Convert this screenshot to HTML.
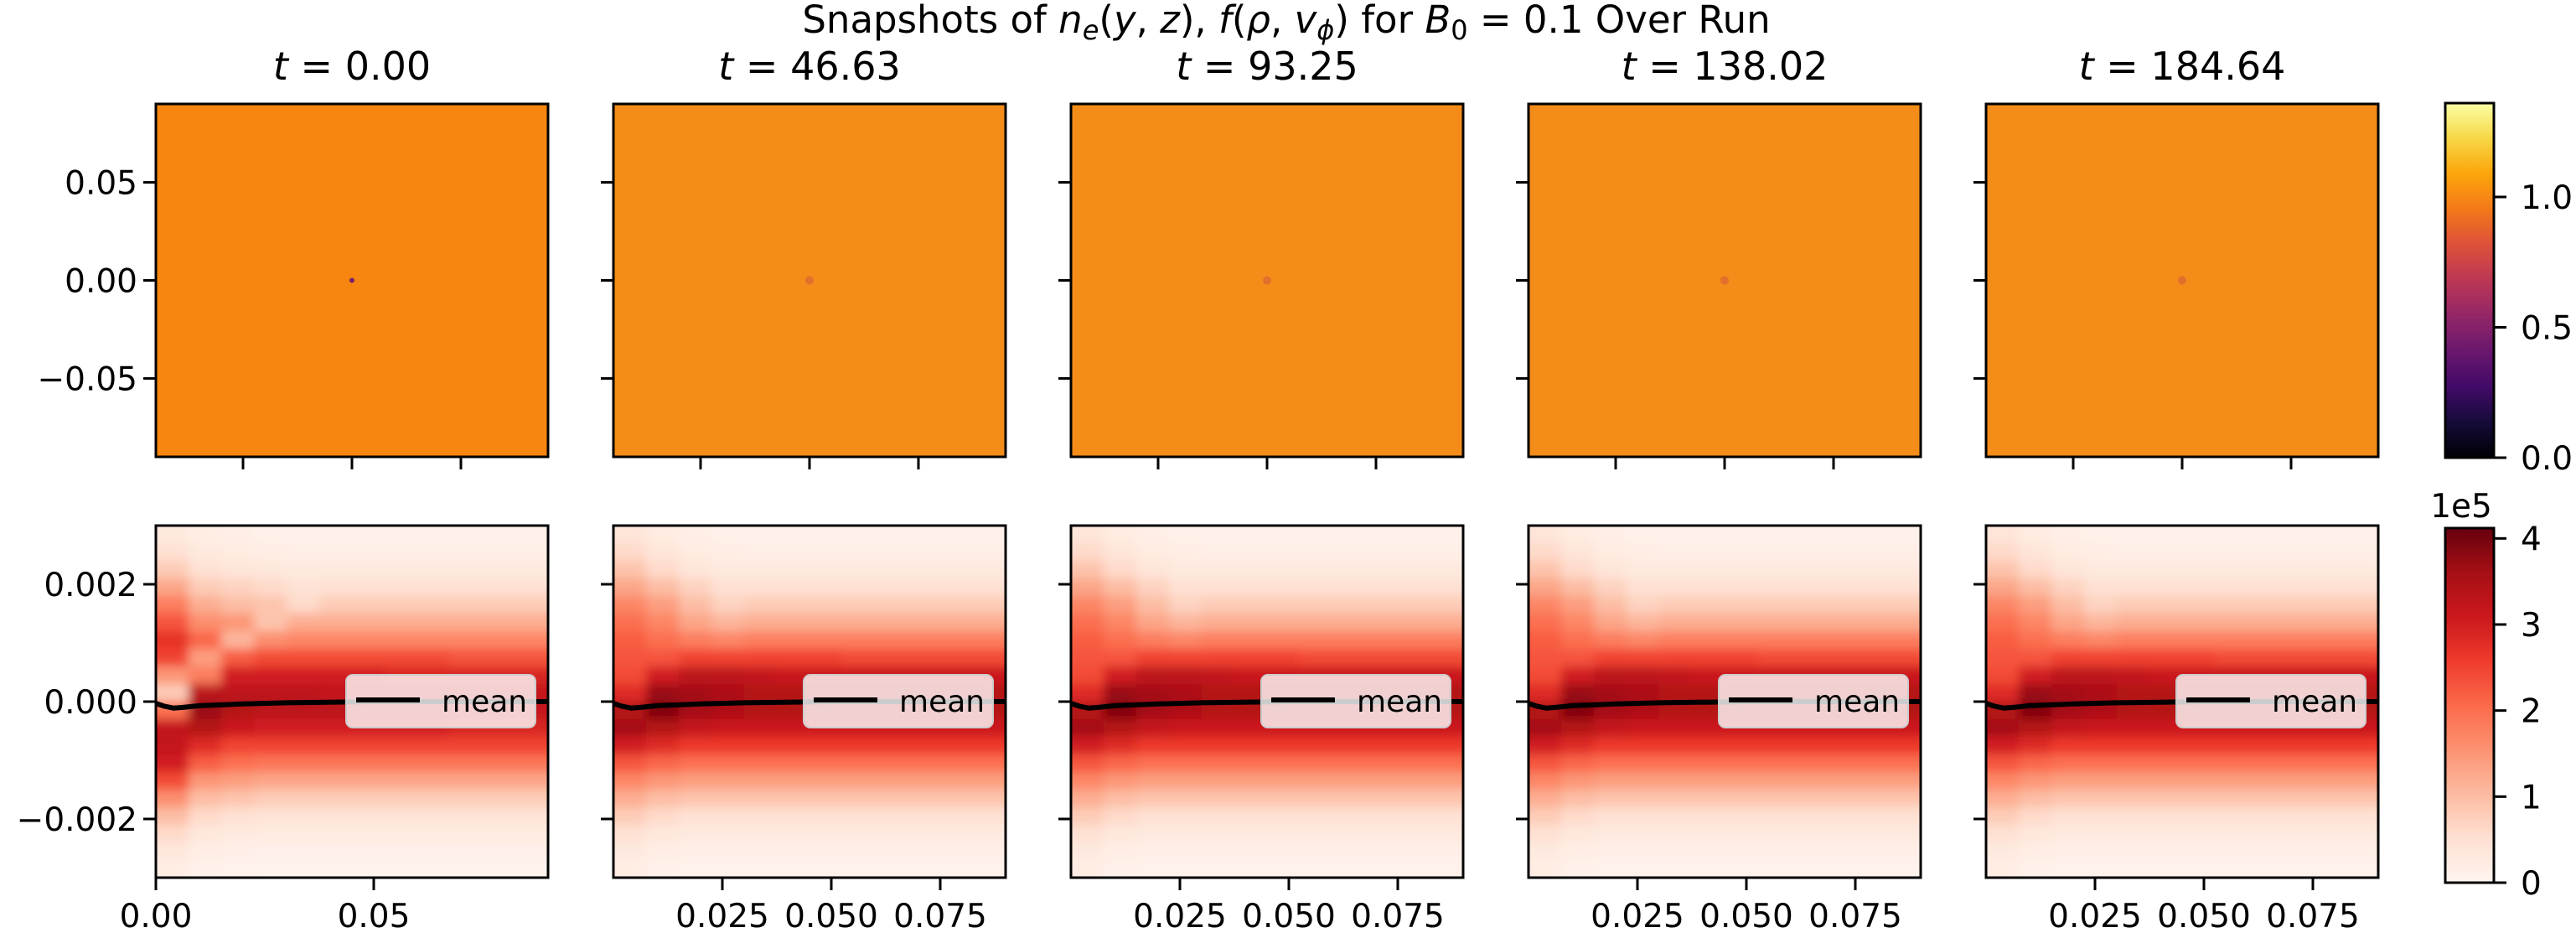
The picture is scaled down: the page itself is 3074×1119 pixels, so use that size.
<!DOCTYPE html>
<html><head><meta charset="utf-8">
<style>
html,body{margin:0;padding:0;background:#fff;}
svg{display:block;}
text{font-family:"DejaVu Sans","Liberation Sans",sans-serif;fill:#000;}
</style></head>
<body>
<svg id="fig" width="3074" height="1119" viewBox="0 0 3074 1119" xmlns="http://www.w3.org/2000/svg">
<defs>
<linearGradient id="infernoGrad" x1="0" y1="1" x2="0" y2="0">
<stop offset="0" stop-color="#000004"/><stop offset="0.1" stop-color="#160b39"/><stop offset="0.2" stop-color="#420a68"/><stop offset="0.3" stop-color="#6a176e"/><stop offset="0.4" stop-color="#932667"/><stop offset="0.5" stop-color="#bc3754"/><stop offset="0.6" stop-color="#dd513a"/><stop offset="0.7" stop-color="#f37819"/><stop offset="0.8" stop-color="#fca50a"/><stop offset="0.9" stop-color="#f6d746"/><stop offset="1" stop-color="#fcffa4"/>
</linearGradient>
<linearGradient id="redsGrad" x1="0" y1="1" x2="0" y2="0">
<stop offset="0" stop-color="#fff5f0"/><stop offset="0.125" stop-color="#fee0d2"/><stop offset="0.25" stop-color="#fcbba1"/><stop offset="0.375" stop-color="#fc9272"/><stop offset="0.5" stop-color="#fb6a4a"/><stop offset="0.625" stop-color="#ef3b2c"/><stop offset="0.75" stop-color="#cb181d"/><stop offset="0.875" stop-color="#a50f15"/><stop offset="1" stop-color="#67000d"/>
</linearGradient>
<filter id="soft" x="-0.2" y="-0.2" width="1.4" height="1.4" filterUnits="objectBoundingBox">
<feGaussianBlur stdDeviation="6"/>
</filter>
</defs>
<text x="1535" y="39" font-size="45" text-anchor="middle">Snapshots of <tspan font-style="italic">n</tspan><tspan font-size="32" dy="8" font-style="italic">e</tspan><tspan dy="-8">(</tspan><tspan font-style="italic">y</tspan>, <tspan font-style="italic">z</tspan>), <tspan font-style="italic">f</tspan>(<tspan font-style="italic">ρ</tspan>, <tspan font-style="italic">v</tspan><tspan font-size="32" dy="8" font-style="italic">ϕ</tspan><tspan dy="-8">)</tspan> for <tspan font-style="italic">B</tspan><tspan font-size="32" dy="8">0</tspan><tspan dy="-8"> = 0.1 Over Run</tspan></text>
<g id="plots"></g>
</svg>
<script>
// ---------- data ----------
const times = ["0.00","46.63","93.25","138.02","184.64"];
const topTicks = [-0.05, 0, 0.05];
const topTickLabels = ["\u22120.05","0.00","0.05"];
const botYTicks = [-0.002, 0, 0.002];
const botYTickLabels = ["\u22120.002","0.000","0.002"];
const firstXTicks = [0, 0.05];
const firstXTickLabels = ["0.00","0.05"];
const otherXTicks = [0.025, 0.05, 0.075];
const otherXTickLabels = ["0.025","0.050","0.075"];
const cbTopTicks = [0, 0.5, 1.0];
const cbTopLabels = ["0.0","0.5","1.0"];
const cbBotTicks = [0, 1, 2, 3, 4];
const cbBotLabels = ["0","1","2","3","4"];
const neLevel = [1.0, 1.0, 1.0, 1.0, 1.0];
// f(rho, v_phi) in units of 1e5, rows from v=+0.00285 to -0.00285 (step 0.0003), cols x=0..0.09 step 0.0075
const fieldEarly = [
[0.3,0.2,0.15,0.1,0.1,0.1,0.1,0.1,0.1,0.1,0.1,0.1],
[0.5,0.3,0.25,0.2,0.15,0.15,0.15,0.15,0.15,0.15,0.15,0.15],
[0.8,0.5,0.4,0.35,0.3,0.3,0.3,0.3,0.3,0.3,0.3,0.3],
[1.3,0.8,0.7,0.6,0.45,0.5,0.5,0.5,0.5,0.5,0.5,0.5],
[1.8,1.2,1.0,0.9,0.6,0.8,0.8,0.8,0.8,0.8,0.8,0.8],
[2.3,1.6,1.5,0.9,1.2,1.2,1.2,1.2,1.2,1.2,1.2,1.2],
[2.7,2.1,1.1,1.6,1.7,1.7,1.7,1.7,1.7,1.7,1.7,1.7],
[2.5,1.4,2.2,2.4,2.4,2.4,2.4,2.4,2.4,2.3,2.3,2.3],
[1.5,1.8,3.0,3.0,3.0,3.0,3.0,2.9,2.9,2.9,2.9,2.9],
[0.8,3.3,3.3,3.3,3.3,3.2,3.2,3.2,3.2,3.2,3.2,3.2],
[2.0,3.7,3.4,3.3,3.3,3.3,3.2,3.2,3.2,3.2,3.2,3.2],
[3.2,3.4,3.1,3.0,3.0,3.0,3.0,3.0,3.0,2.9,2.9,2.9],
[3.2,2.8,2.5,2.5,2.5,2.5,2.5,2.5,2.5,2.5,2.5,2.5],
[3.0,2.2,2.0,1.9,1.9,1.9,1.9,1.9,1.9,1.9,1.9,1.9],
[2.4,1.5,1.4,1.3,1.3,1.3,1.3,1.3,1.3,1.3,1.3,1.3],
[1.6,1.0,0.9,0.8,0.8,0.8,0.8,0.8,0.8,0.8,0.8,0.8],
[1.0,0.6,0.5,0.45,0.45,0.45,0.45,0.45,0.45,0.45,0.45,0.45],
[0.6,0.35,0.3,0.25,0.25,0.25,0.25,0.25,0.25,0.25,0.25,0.25],
[0.35,0.2,0.15,0.12,0.12,0.12,0.12,0.12,0.12,0.12,0.12,0.12],
[0.2,0.1,0.08,0.06,0.06,0.06,0.06,0.06,0.06,0.06,0.06,0.06]
];
const fieldLate = [
[0.4,0.25,0.15,0.1,0.1,0.1,0.1,0.1,0.1,0.1,0.1,0.1],
[0.6,0.4,0.25,0.2,0.15,0.15,0.15,0.15,0.15,0.15,0.15,0.15],
[0.9,0.6,0.4,0.3,0.3,0.3,0.3,0.3,0.3,0.3,0.3,0.3],
[1.3,1.0,0.7,0.5,0.5,0.5,0.5,0.5,0.5,0.5,0.5,0.5],
[1.7,1.4,1.0,0.7,0.8,0.8,0.8,0.8,0.8,0.8,0.8,0.8],
[2.0,1.7,1.3,1.1,1.2,1.2,1.2,1.2,1.2,1.2,1.2,1.2],
[2.2,2.0,1.8,1.7,1.8,1.8,1.8,1.8,1.8,1.8,1.8,1.8],
[2.3,2.3,2.5,2.5,2.5,2.5,2.5,2.4,2.4,2.4,2.4,2.4],
[2.4,3.0,3.3,3.3,3.2,3.1,3.1,3.1,3.1,3.1,3.1,3.1],
[2.8,3.7,3.6,3.5,3.4,3.4,3.4,3.4,3.4,3.4,3.4,3.4],
[3.4,3.9,3.6,3.5,3.4,3.4,3.4,3.4,3.4,3.4,3.4,3.4],
[3.6,3.4,3.2,3.1,3.1,3.1,3.1,3.1,3.1,3.1,3.1,3.1],
[3.0,2.8,2.6,2.6,2.6,2.6,2.6,2.6,2.6,2.6,2.6,2.6],
[2.3,2.1,2.0,2.0,2.0,2.0,2.0,2.0,2.0,2.0,2.0,2.0],
[1.7,1.5,1.4,1.4,1.4,1.4,1.4,1.4,1.4,1.4,1.4,1.4],
[1.2,1.0,0.9,0.9,0.9,0.9,0.9,0.9,0.9,0.9,0.9,0.9],
[0.8,0.6,0.5,0.5,0.5,0.5,0.5,0.5,0.5,0.5,0.5,0.5],
[0.5,0.35,0.3,0.3,0.3,0.3,0.3,0.3,0.3,0.3,0.3,0.3],
[0.3,0.2,0.15,0.15,0.15,0.15,0.15,0.15,0.15,0.15,0.15,0.15],
[0.2,0.1,0.08,0.08,0.08,0.08,0.08,0.08,0.08,0.08,0.08,0.08]
];
const meanX = [0, 0.002, 0.004, 0.006, 0.01, 0.02, 0.03, 0.05, 0.07, 0.09];
const meanV = [-0.00003, -0.00008, -0.00011, -0.0001, -0.00007, -0.00004, -0.00002, 0, 0, 0];

// ---------- layout ----------
const NS = "http://www.w3.org/2000/svg";
const g = document.getElementById("plots");
const PW = 468, GAP = 78, X0 = 186;
const TOP_Y0 = 124, TOP_Y1 = 545, BOT_Y0 = 627, BOT_Y1 = 1047;
const CB_X0 = 2918, CB_X1 = 2976;
const PAD = 30;
function mk(tag, attrs, parent) {
  const e = document.createElementNS(NS, tag);
  for (const k in attrs) e.setAttribute(k, attrs[k]);
  (parent || g).appendChild(e);
  return e;
}
const redsStops = [[0,[255,245,240]],[0.125,[254,224,210]],[0.25,[252,187,161]],[0.375,[252,146,114]],[0.5,[251,106,74]],[0.625,[239,59,44]],[0.75,[203,24,29]],[0.875,[165,15,21]],[1,[103,0,13]]];
function reds(t) {
  t = Math.max(0, Math.min(1, t));
  for (let i = 1; i < redsStops.length; i++) {
    if (t <= redsStops[i][0]) {
      const a = redsStops[i-1], b = redsStops[i];
      const f = (t - a[0]) / (b[0] - a[0]);
      const c = a[1].map((v, j) => Math.round(v + (b[1][j] - v) * f));
      return "rgb(" + c.join(",") + ")";
    }
  }
  return "rgb(103,0,13)";
}
const FMAX = 4.12;
const defs = document.querySelector("defs");

for (let p = 0; p < 5; p++) {
  const px = X0 + p * (PW + GAP);
  const topX = v => px + (v + 0.09) / 0.18 * PW;
  const topY = v => TOP_Y1 - (v + 0.09) / 0.18 * (TOP_Y1 - TOP_Y0);
  const title = mk("text", {x: px + PW / 2, y: 95, "font-size": 46, "text-anchor": "middle"});
  
  
  title.innerHTML = '<tspan font-style="italic">t</tspan> = ' + times[p];
  const img = mk("rect", {x: px, y: TOP_Y0, width: PW, height: TOP_Y1 - TOP_Y0, fill: p === 0 ? "#f6860f" : "#f38c19"});
  
  
  const dot = mk("circle", {cx: topX(0), cy: topY(0), r: p === 0 ? 3 : 5, fill: p === 0 ? "#7a1f6a" : "#e2702c"});
  
  
  const fr = mk("rect", {x: px, y: TOP_Y0, width: PW, height: TOP_Y1 - TOP_Y0, fill: "none", stroke: "#000", "stroke-width": 3});
  
  
  topTicks.forEach((t, i) => {
    const ty = topY(t), tx = topX(t);
    const a = mk("line", {x1: px, x2: px - 15, y1: ty, y2: ty, stroke: "#000", "stroke-width": 3});
    
    
    const b = mk("line", {x1: tx, x2: tx, y1: TOP_Y1, y2: TOP_Y1 + 15, stroke: "#000", "stroke-width": 3});
    
    
    if (p === 0) {
      const l = mk("text", {x: px - 22, y: ty + 14, "font-size": 39, "text-anchor": "end"});
      
      
      l.textContent = topTickLabels[i];
    }
  });

  // ---- bottom panel ----
  const bx = v => px + v / 0.09 * PW;
  const by = v => BOT_Y1 - (v + 0.003) / 0.006 * (BOT_Y1 - BOT_Y0);
  const field = p === 0 ? fieldEarly : fieldLate;
  const nR = field.length, nC = field[0].length;
  const dv = 0.006 / nR, dx = 0.09 / nC;
  const cp = mk("clipPath", {id: "clip" + p}, defs);
  mk("rect", {x: px, y: BOT_Y0, width: PW, height: BOT_Y1 - BOT_Y0}, cp);
  const outer = mk("g", {"clip-path": "url(#clip" + p + ")"});
  
  
  const hm = mk("g", {filter: "url(#soft)"}, outer);
  for (let r = 0; r < nR; r++) {
    for (let c = 0; c < nC; c++) {
      const vTop = 0.003 - r * dv, xL = c * dx;
      let x0 = bx(xL), x1 = bx(xL + dx) + 0.6, y0 = by(vTop), y1 = by(vTop - dv) + 0.6;
      if (c === 0) x0 -= PAD;
      if (c === nC - 1) x1 += PAD;
      if (r === 0) y0 -= PAD;
      if (r === nR - 1) y1 += PAD;
      const cell = mk("rect", {x: x0, y: y0, width: x1 - x0, height: y1 - y0, fill: reds(field[r][c] / FMAX)}, hm);
      
      
    }
  }
  const pts = meanX.map((x, i) => bx(x).toFixed(1) + "," + by(meanV[i]).toFixed(1)).join(" ");
  const ml = mk("polyline", {points: pts, fill: "none", stroke: "#000", "stroke-width": 6, "stroke-linejoin": "round"});
  
  
  const bfr = mk("rect", {x: px, y: BOT_Y0, width: PW, height: BOT_Y1 - BOT_Y0, fill: "none", stroke: "#000", "stroke-width": 3});
  
  
  const lg = mk("g", {});
  
  
  mk("rect", {x: px + 227, y: 805, width: 226, height: 63, rx: 8, fill: "rgba(255,255,255,0.8)", stroke: "#cccccc", "stroke-width": 2}, lg);
  const ll = mk("line", {x1: px + 239, x2: px + 315, y1: 835, y2: 835, stroke: "#000", "stroke-width": 6}, lg);
  
  
  const lt = mk("text", {x: px + 341, y: 849, "font-size": 36}, lg);
  
  
  lt.textContent = "mean";
  botYTicks.forEach((t, i) => {
    const ty = by(t);
    const a = mk("line", {x1: px, x2: px - 15, y1: ty, y2: ty, stroke: "#000", "stroke-width": 3});
    
    
    if (p === 0) {
      const l = mk("text", {x: px - 22, y: ty + 14, "font-size": 39, "text-anchor": "end"});
      
      
      l.textContent = botYTickLabels[i];
    }
  });
  const xt = p === 0 ? firstXTicks : otherXTicks;
  const xl = p === 0 ? firstXTickLabels : otherXTickLabels;
  xt.forEach((t, i) => {
    const tx = bx(t);
    const a = mk("line", {x1: tx, x2: tx, y1: BOT_Y1, y2: BOT_Y1 + 15, stroke: "#000", "stroke-width": 3});
    
    
    const l = mk("text", {x: tx, y: 1106, "font-size": 39, "text-anchor": "middle"});
    
    
    l.textContent = xl[i];
  });
}

// ---------- colorbars ----------
const cb1 = mk("rect", {x: CB_X0, y: TOP_Y0 - 1, width: CB_X1 - CB_X0, height: TOP_Y1 - TOP_Y0 + 2, fill: "url(#infernoGrad)", stroke: "#000", "stroke-width": 3});


const cbTopY = v => TOP_Y1 + 1 - v / 1.36 * (TOP_Y1 - TOP_Y0 + 2);
cbTopTicks.forEach((t, i) => {
  const y = cbTopY(t);
  const a = mk("line", {x1: CB_X1, x2: CB_X1 + 15, y1: y, y2: y, stroke: "#000", "stroke-width": 3});
  
  
  const l = mk("text", {x: CB_X1 + 32, y: y + 14, "font-size": 39});
  
  
  l.textContent = cbTopLabels[i];
});
const cb2 = mk("rect", {x: CB_X0, y: BOT_Y0 + 3, width: CB_X1 - CB_X0, height: 1053 - BOT_Y0 - 3, fill: "url(#redsGrad)", stroke: "#000", "stroke-width": 3});


const cbBotY = v => 1053 - v / FMAX * (1053 - BOT_Y0 - 3);
cbBotTicks.forEach((t, i) => {
  const y = cbBotY(t);
  const a = mk("line", {x1: CB_X1, x2: CB_X1 + 15, y1: y, y2: y, stroke: "#000", "stroke-width": 3});
  
  
  const l = mk("text", {x: CB_X1 + 32, y: y + 14, "font-size": 39});
  
  
  l.textContent = cbBotLabels[i];
});
const sc = mk("text", {x: 2937, y: 617, "font-size": 39, "text-anchor": "middle"});


sc.textContent = "1e5";
</script>
</body></html>
